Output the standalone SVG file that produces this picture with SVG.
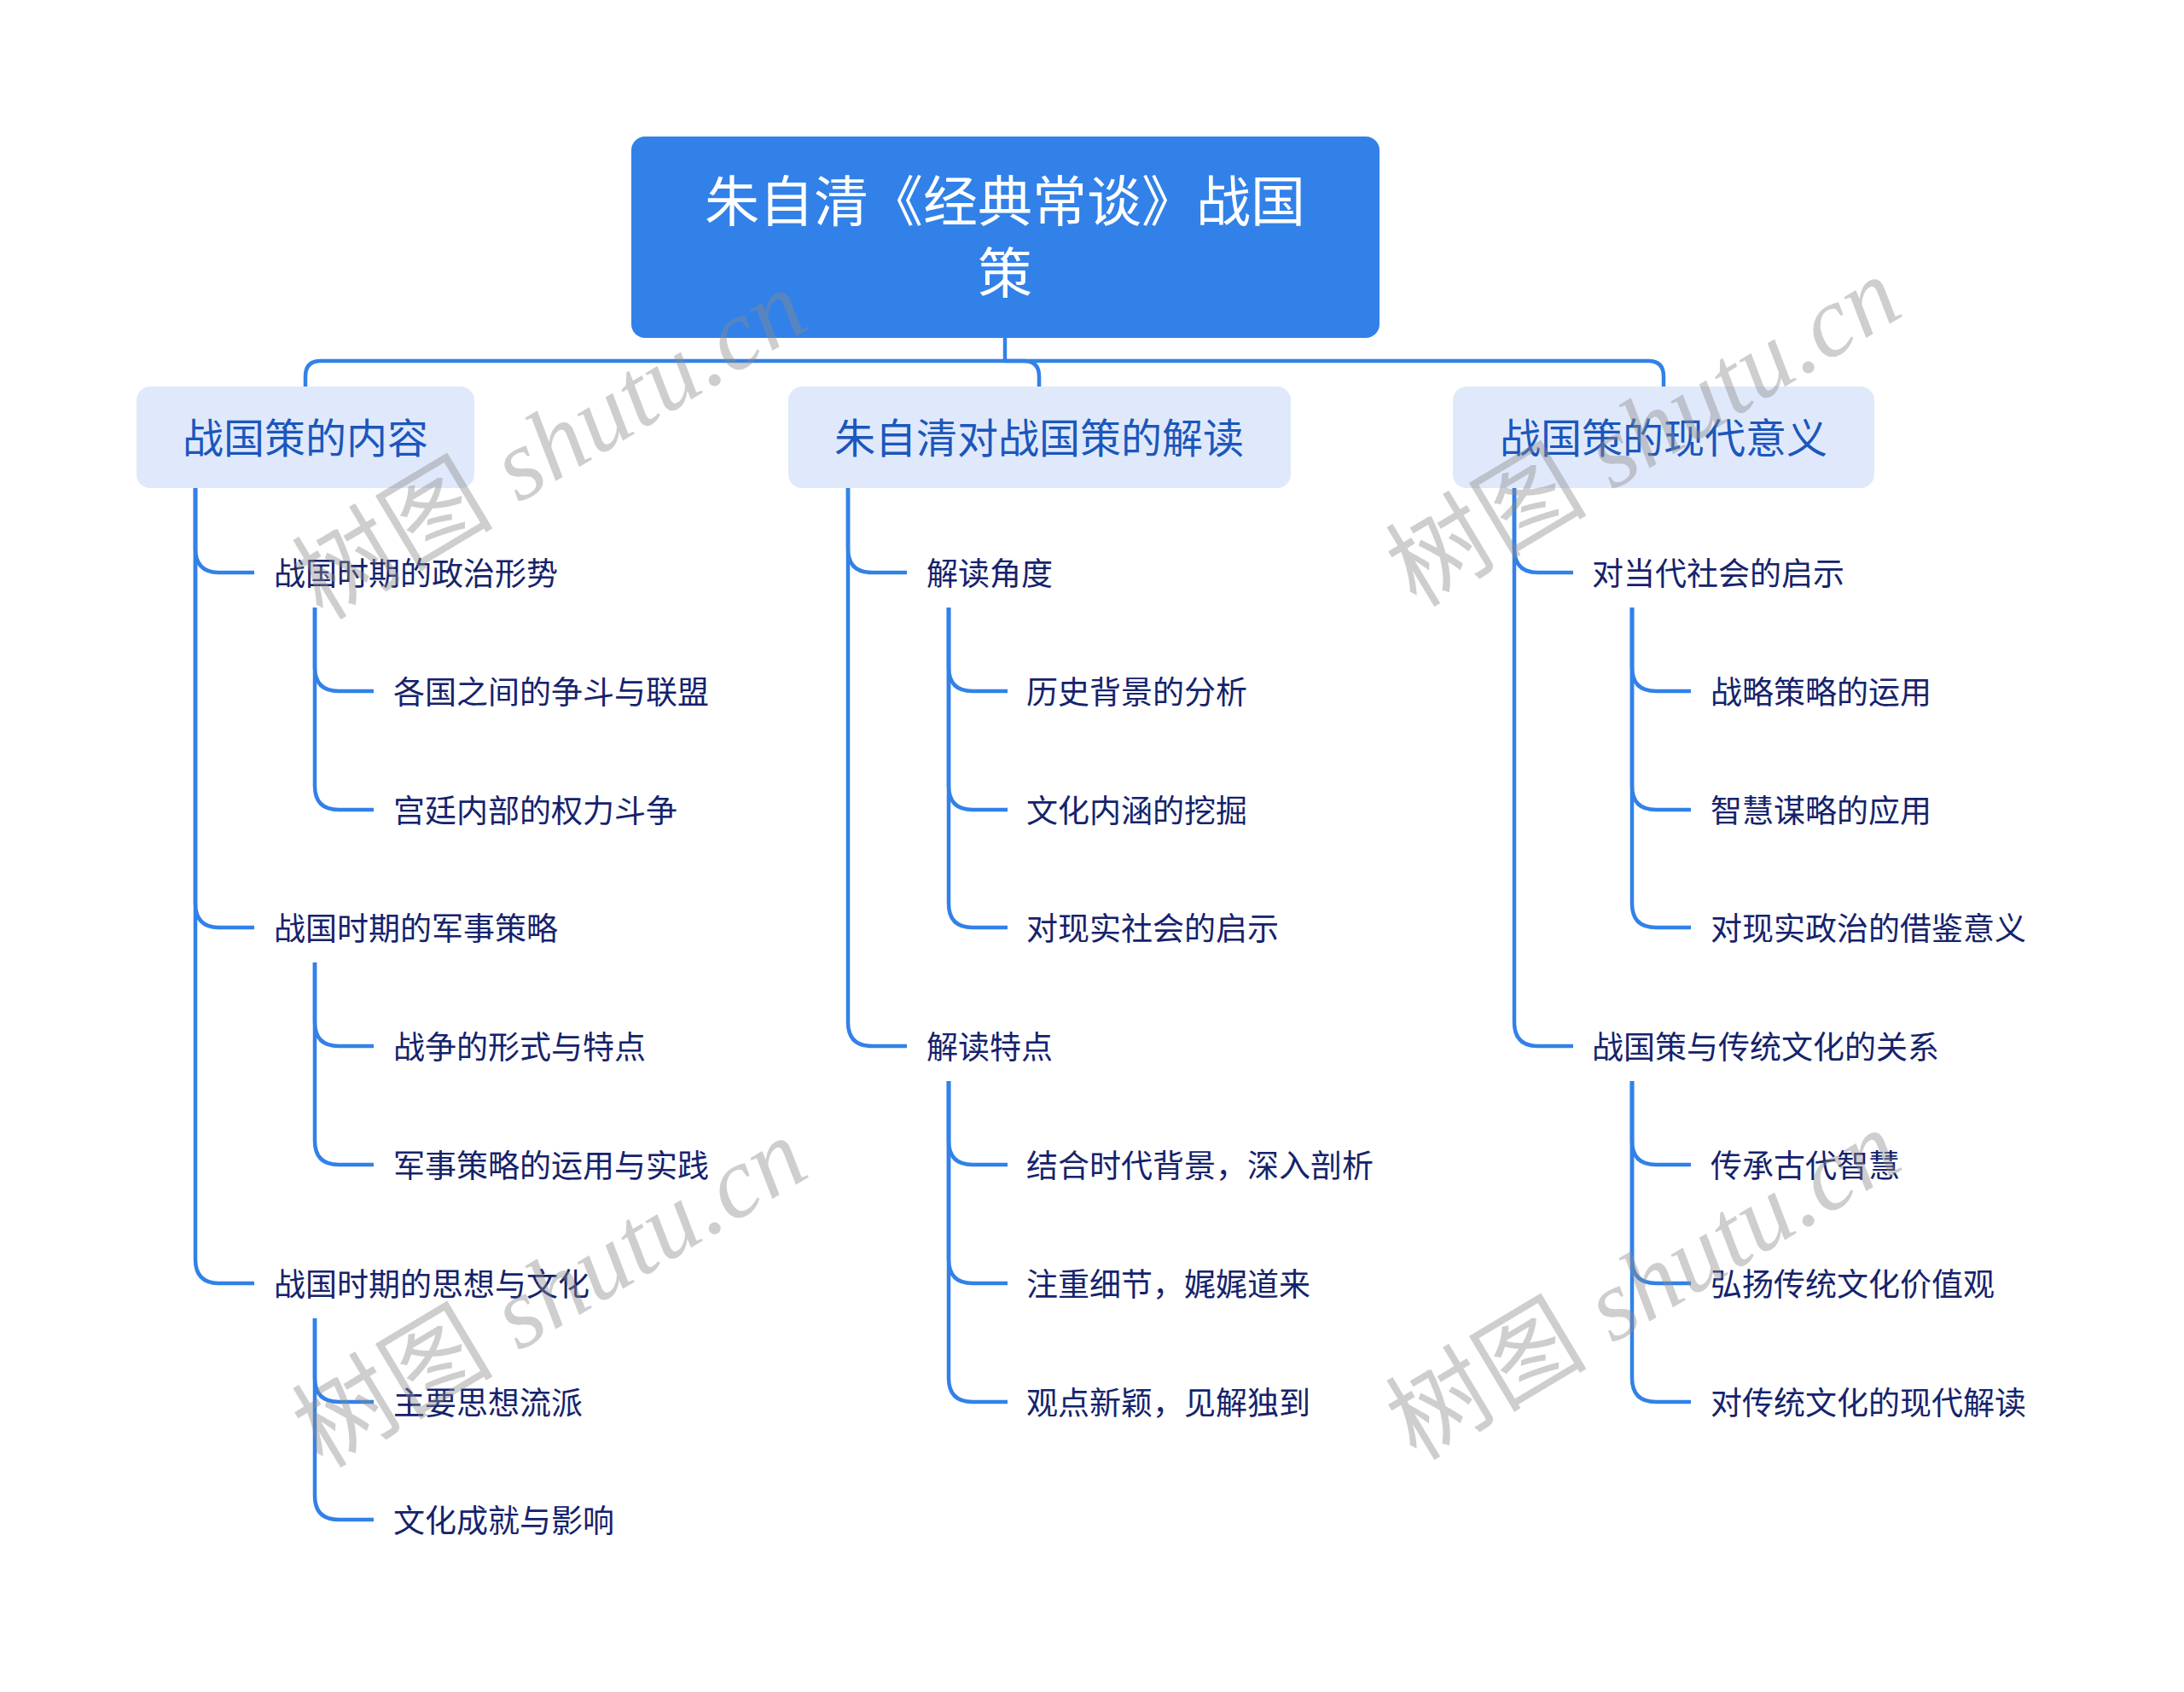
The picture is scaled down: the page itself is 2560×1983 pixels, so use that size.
<svg xmlns="http://www.w3.org/2000/svg" width="2560" height="1983" viewBox="0 0 2560 1983">
<style>
.root-box{fill:#3281E8}
.l1-box{fill:#E0E9FB}
.root-t{font-family:"Noto Sans CJK SC","Noto Sans",sans-serif;font-size:64px;fill:#FFFFFF;text-anchor:middle;dominant-baseline:central}
.l1-t{font-family:"Noto Sans CJK SC","Noto Sans",sans-serif;font-size:48px;fill:#1B57BC;text-anchor:middle;dominant-baseline:central}
.t{font-family:"Noto Sans CJK SC","Noto Sans",sans-serif;font-size:37px;fill:#15236C;dominant-baseline:central}
.c{fill:none;stroke:#3281E8;stroke-width:4.5;stroke-linecap:butt}
.wm{font-family:"Liberation Serif","Noto Sans CJK SC",serif;font-size:118px;fill:#8C8C8C;opacity:0.42}
.wm-en{font-style:italic}
</style>
<rect width="2560" height="1983" fill="#FFFFFF"/>
<g id="connectors">
<path class="c" d="M1178,396 V423"/>
<path class="c" d="M1178,423 H376 Q358,423 358,441 V453"/>
<path class="c" d="M1178,423 H1200 Q1218,423 1218,441 V453"/>
<path class="c" d="M1178,423 H1932 Q1950,423 1950,441 V453"/>
<path class="c" d="M229,572 V643 Q229,671 257,671 H298"/>
<path class="c" d="M229,572 V1059 Q229,1087 257,1087 H298"/>
<path class="c" d="M229,572 V1476 Q229,1504 257,1504 H298"/>
<path class="c" d="M369,712 V782 Q369,810 397,810 H438"/>
<path class="c" d="M369,712 V921 Q369,949 397,949 H438"/>
<path class="c" d="M369,1128 V1198 Q369,1226 397,1226 H438"/>
<path class="c" d="M369,1128 V1337 Q369,1365 397,1365 H438"/>
<path class="c" d="M369,1545 V1615 Q369,1643 397,1643 H438"/>
<path class="c" d="M369,1545 V1753 Q369,1781 397,1781 H438"/>
<path class="c" d="M994,572 V643 Q994,671 1022,671 H1063"/>
<path class="c" d="M994,572 V1198 Q994,1226 1022,1226 H1063"/>
<path class="c" d="M1112,712 V782 Q1112,810 1140,810 H1181"/>
<path class="c" d="M1112,712 V921 Q1112,949 1140,949 H1181"/>
<path class="c" d="M1112,712 V1059 Q1112,1087 1140,1087 H1181"/>
<path class="c" d="M1112,1267 V1337 Q1112,1365 1140,1365 H1181"/>
<path class="c" d="M1112,1267 V1476 Q1112,1504 1140,1504 H1181"/>
<path class="c" d="M1112,1267 V1615 Q1112,1643 1140,1643 H1181"/>
<path class="c" d="M1775,572 V643 Q1775,671 1803,671 H1844"/>
<path class="c" d="M1775,572 V1198 Q1775,1226 1803,1226 H1844"/>
<path class="c" d="M1913,712 V782 Q1913,810 1941,810 H1982"/>
<path class="c" d="M1913,712 V921 Q1913,949 1941,949 H1982"/>
<path class="c" d="M1913,712 V1059 Q1913,1087 1941,1087 H1982"/>
<path class="c" d="M1913,1267 V1337 Q1913,1365 1941,1365 H1982"/>
<path class="c" d="M1913,1267 V1476 Q1913,1504 1941,1504 H1982"/>
<path class="c" d="M1913,1267 V1615 Q1913,1643 1941,1643 H1982"/>
</g>
<g id="root">
<rect class="root-box" x="740" y="160" width="877" height="236" rx="16"/>
<text class="root-t" x="1178" y="231">朱自清《经典常谈》战国</text>
<text class="root-t" x="1178" y="315">策</text>
</g>
<g id="n1">
<rect class="l1-box" x="160" y="453" width="396" height="119" rx="16"/>
<text class="l1-t" x="358" y="510">战国策的内容</text>
</g>
<g id="n2">
<rect class="l1-box" x="924" y="453" width="589" height="119" rx="16"/>
<text class="l1-t" x="1218" y="510">朱自清对战国策的解读</text>
</g>
<g id="n3">
<rect class="l1-box" x="1703" y="453" width="494" height="119" rx="16"/>
<text class="l1-t" x="1950" y="510">战国策的现代意义</text>
</g>
<g id="n1-1"><text class="t" x="321" y="670">战国时期的政治形势</text></g>
<g id="n1-1-1"><text class="t" x="461" y="809">各国之间的争斗与联盟</text></g>
<g id="n1-1-2"><text class="t" x="461" y="948">宫廷内部的权力斗争</text></g>
<g id="n1-2"><text class="t" x="321" y="1086">战国时期的军事策略</text></g>
<g id="n1-2-1"><text class="t" x="461" y="1225">战争的形式与特点</text></g>
<g id="n1-2-2"><text class="t" x="461" y="1364">军事策略的运用与实践</text></g>
<g id="n1-3"><text class="t" x="321" y="1503">战国时期的思想与文化</text></g>
<g id="n1-3-1"><text class="t" x="461" y="1642">主要思想流派</text></g>
<g id="n1-3-2"><text class="t" x="461" y="1780">文化成就与影响</text></g>
<g id="n2-1"><text class="t" x="1086" y="670">解读角度</text></g>
<g id="n2-1-1"><text class="t" x="1203" y="809">历史背景的分析</text></g>
<g id="n2-1-2"><text class="t" x="1203" y="948">文化内涵的挖掘</text></g>
<g id="n2-1-3"><text class="t" x="1203" y="1086">对现实社会的启示</text></g>
<g id="n2-2"><text class="t" x="1086" y="1225">解读特点</text></g>
<g id="n2-2-1"><text class="t" x="1203" y="1364">结合时代背景，深入剖析</text></g>
<g id="n2-2-2"><text class="t" x="1203" y="1503">注重细节，娓娓道来</text></g>
<g id="n2-2-3"><text class="t" x="1203" y="1642">观点新颖，见解独到</text></g>
<g id="n3-1"><text class="t" x="1866" y="670">对当代社会的启示</text></g>
<g id="n3-1-1"><text class="t" x="2005" y="809">战略策略的运用</text></g>
<g id="n3-1-2"><text class="t" x="2005" y="948">智慧谋略的应用</text></g>
<g id="n3-1-3"><text class="t" x="2005" y="1086">对现实政治的借鉴意义</text></g>
<g id="n3-2"><text class="t" x="1866" y="1225">战国策与传统文化的关系</text></g>
<g id="n3-2-1"><text class="t" x="2005" y="1364">传承古代智慧</text></g>
<g id="n3-2-2"><text class="t" x="2005" y="1503">弘扬传统文化价值观</text></g>
<g id="n3-2-3"><text class="t" x="2005" y="1642">对传统文化的现代解读</text></g>
<g id="watermarks">
<text class="wm" transform="translate(378,728) rotate(-31)" textLength="670" lengthAdjust="spacing">树图 <tspan class="wm-en">shutu.cn</tspan></text>
<text class="wm" transform="translate(1660,713) rotate(-31)" textLength="670" lengthAdjust="spacing">树图 <tspan class="wm-en">shutu.cn</tspan></text>
<text class="wm" transform="translate(378,1722) rotate(-31)" textLength="670" lengthAdjust="spacing">树图 <tspan class="wm-en">shutu.cn</tspan></text>
<text class="wm" transform="translate(1660,1713) rotate(-31)" textLength="670" lengthAdjust="spacing">树图 <tspan class="wm-en">shutu.cn</tspan></text>
</g>
</svg>
